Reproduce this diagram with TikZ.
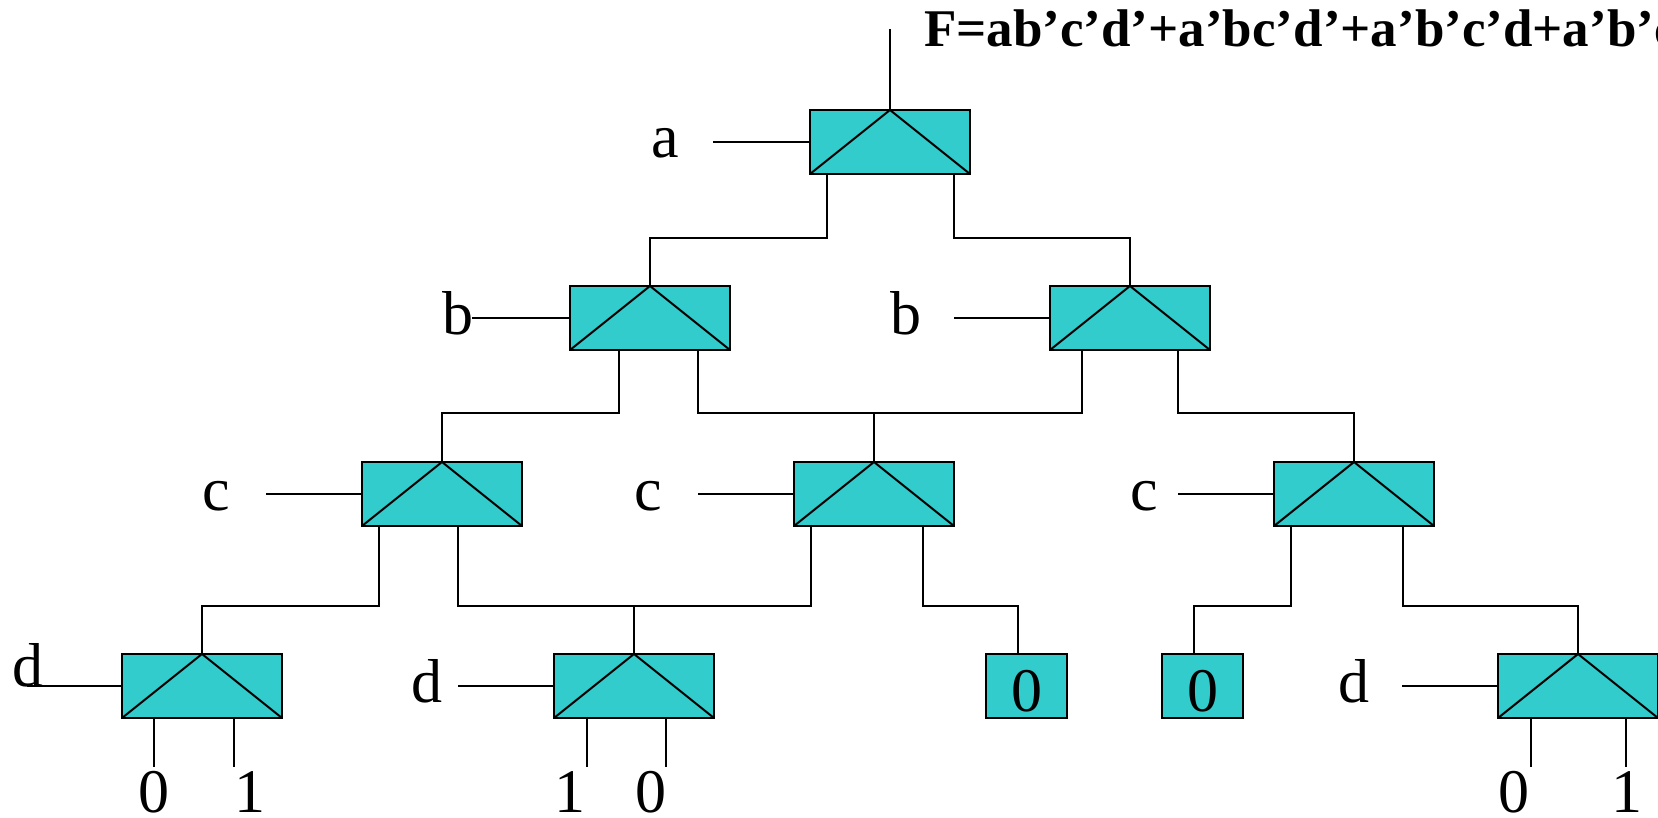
\documentclass[tikz,border=0pt]{standalone}
\usepackage{fontspec}
\setmainfont{Liberation Serif}
\usetikzlibrary{calc}
\definecolor{muxfill}{RGB}{51,204,204}
\newcommand\labfont{\fontsize{31}{31}\selectfont}
\begin{document}
\begin{tikzpicture}[x=0.5pt,y=-0.5pt,line width=1pt,
  mux/.style={draw,fill=muxfill,minimum width=80pt,minimum height=32pt,inner sep=0pt,outer sep=0pt,
    path picture={\draw[line width=1pt] (path picture bounding box.south west) -- (path picture bounding box.north) -- (path picture bounding box.south east);}},
  zbox/.style={draw,fill=muxfill,minimum width=40.5pt,minimum height=32pt,inner sep=0pt,outer sep=0pt,font=\labfont,text height=25pt,text depth=0pt},
  lab/.style={anchor=base,inner sep=0pt,font=\labfont}]
\useasboundingbox (0,0) rectangle (1658,818);
% boxes
\node[mux] (A)  at (890,142) {};
\node[mux] (B1) at (650,318) {};
\node[mux] (B2) at (1130,318) {};
\node[mux] (C1) at (442,494) {};
\node[mux] (C2) at (874,494) {};
\node[mux] (C3) at (1354,494) {};
\node[mux] (D1) at (202,686) {};
\node[mux] (D2) at (634,686) {};
\node[mux] (D3) at (1578,686) {};
\node[zbox] (Z1) at (1026.5,686) {0};
\node[zbox] (Z2) at (1202.5,686) {0};
% function text
\node[anchor=base west,inner sep=0pt,font=\fontsize{26.5}{26.5}\selectfont\bfseries] (F) at (923,47) {F=ab’c’d’+a’bc’d’+a’b’c’d+a’b’c};
\coordinate (top) at (890,29);
\draw (top) -- (A.north);
% tree connectors
\draw ($(A.south west)+(17,0)$) -- ++(0,64) -| (B1.north);
\draw ($(A.south east)+(-16,0)$) -- ++(0,64) -| (B2.north);
\draw ($(B1.south west)+(49,0)$) -- ++(0,63) -| (C1.north);
\draw ($(B1.south east)+(-32,0)$) -- ++(0,63) -| (C2.north);
\draw ($(B2.south west)+(32,0)$) -- ++(0,63) -| (C2.north);
\draw ($(B2.south east)+(-32,0)$) -- ++(0,63) -| (C3.north);
\draw ($(C1.south west)+(17,0)$) -- ++(0,80) -| (D1.north);
\draw ($(C1.south east)+(-64,0)$) -- ++(0,80) -| (D2.north);
\draw ($(C2.south west)+(17,0)$) -- ++(0,80) -| (D2.north);
\draw ($(C2.south east)+(-31,0)$) -- ++(0,80) -| ($(Z1.north)+(-8.5,0)$);
\draw ($(C3.south west)+(17,0)$) -- ++(0,80) -| ($(Z2.north)+(-8.5,0)$);
\draw ($(C3.south east)+(-31,0)$) -- ++(0,80) -| (D3.north);
% select inputs
\node[lab] (la)  at (665.5,158) {a};
\node[lab] (lb1) at (457.5,334) {b};
\node[lab] (lb2) at (906,334) {b};
\node[lab] (lc1) at (216,510) {c};
\node[lab] (lc2) at (648,510) {c};
\node[lab] (lc3) at (1144.5,510) {c};
\node[lab] (ld1) at (27.6,686) {d};
\node[lab] (ld2) at (427,702) {d};
\node[lab] (ld3) at (1354,702) {d};
\coordinate (ia)  at (713,142);
\coordinate (ib1) at (472,318);
\coordinate (ib2) at (954,318);
\coordinate (ic1) at (266,494);
\coordinate (ic2) at (698,494);
\coordinate (ic3) at (1178,494);
\coordinate (id1) at (27,686);
\coordinate (id2) at (458,686);
\coordinate (id3) at (1402,686);
\draw (ia) -- (ia -| A.west);
\draw (ib1) -- (ib1 -| B1.west);
\draw (ib2) -- (ib2 -| B2.west);
\draw (ic1) -- (ic1 -| C1.west);
\draw (ic2) -- (ic2 -| C2.west);
\draw (ic3) -- (ic3 -| C3.west);
\draw (id1) -- (id1 -| D1.west);
\draw (id2) -- (id2 -| D2.west);
\draw (id3) -- (id3 -| D3.west);
% data inputs
\coordinate (e1) at (154,767);
\coordinate (e2) at (234,767);
\coordinate (e3) at (587,767);
\coordinate (e4) at (666,767);
\coordinate (e5) at (1531,767);
\coordinate (e6) at (1626,767);
\draw (e1 |- D1.south) -- (e1);
\draw (e2 |- D1.south) -- (e2);
\draw (e3 |- D2.south) -- (e3);
\draw (e4 |- D2.south) -- (e4);
\draw (e5 |- D3.south) -- (e5);
\draw (e6 |- D3.south) -- (e6);
\node[lab] (v1) at (154,812) {0};
\node[lab] (v2) at (250,812) {1};
\node[lab] (v3) at (570,812) {1};
\node[lab] (v4) at (651,812) {0};
\node[lab] (v5) at (1514,812) {0};
\node[lab] (v6) at (1627,812) {1};
\end{tikzpicture}
\end{document}
